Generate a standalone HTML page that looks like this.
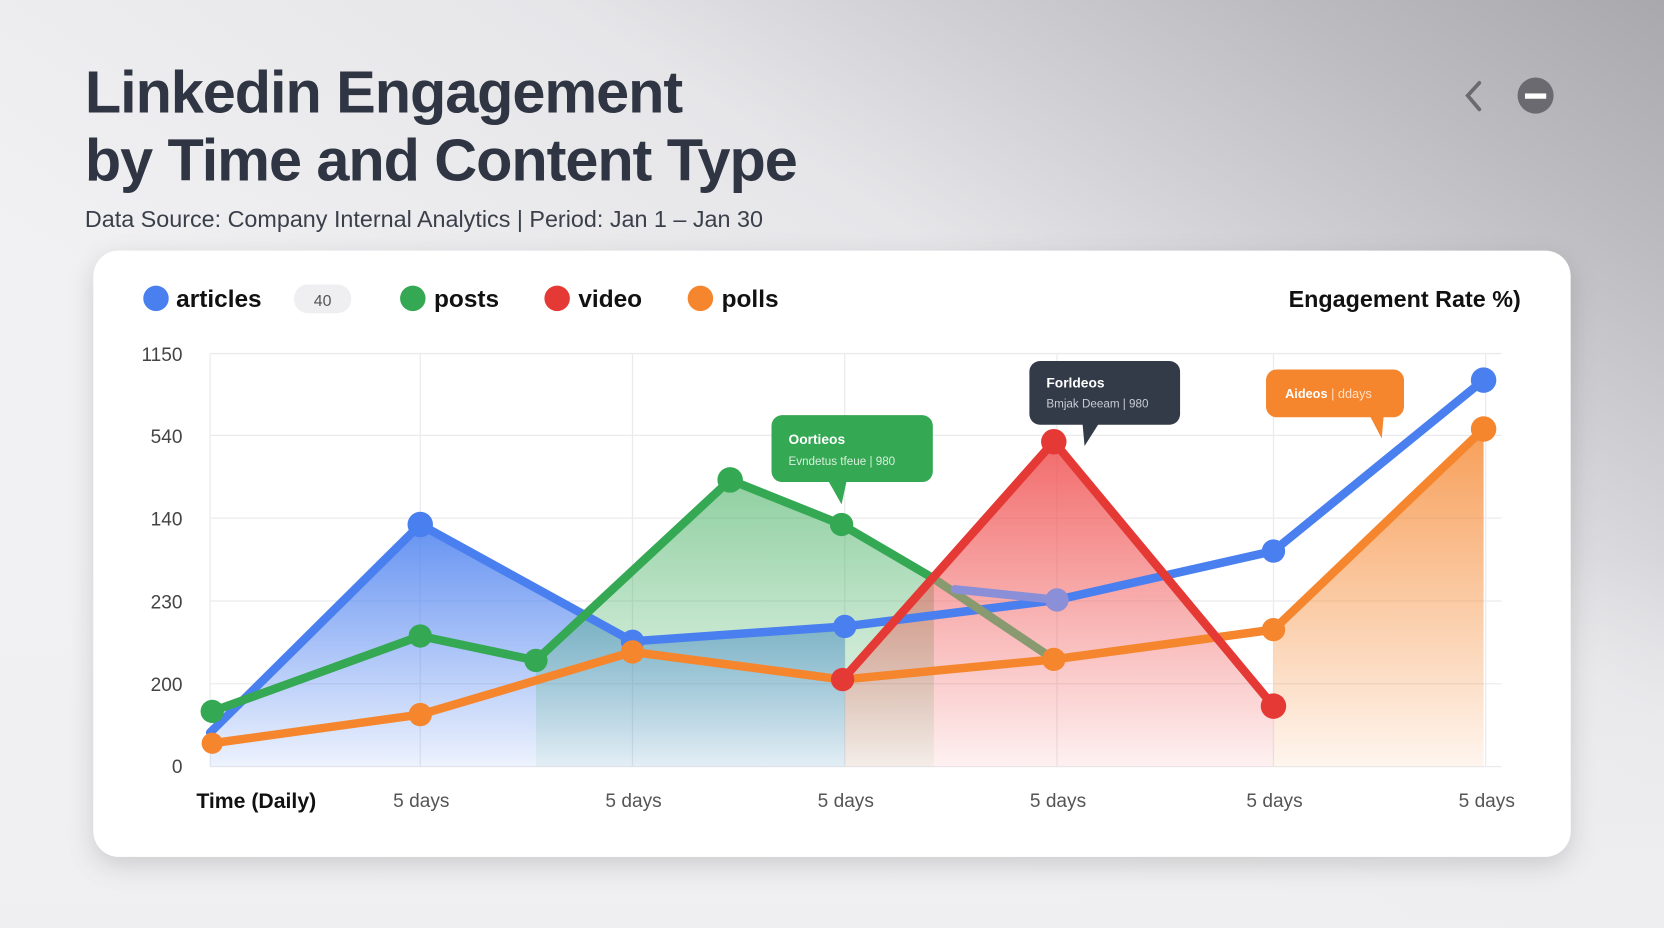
<!DOCTYPE html>
<html><head><meta charset="utf-8"><style>
html,body{margin:0;padding:0;width:1664px;height:928px;overflow:hidden}
svg{display:block}
text{font-family:"Liberation Sans",sans-serif}
</style></head><body>
<svg width="1664" height="928" viewBox="0 0 1568 874" preserveAspectRatio="none">
<defs>
<linearGradient id="bg" x1="0.3" y1="0.6" x2="1" y2="0">
<stop offset="0" stop-color="#f1f1f3"/><stop offset="0.45" stop-color="#e6e6e9"/><stop offset="0.8" stop-color="#bcbcc1"/><stop offset="1" stop-color="#a8a8ad"/></linearGradient>
<linearGradient id="bg2" x1="0" y1="0" x2="0" y2="1"><stop offset="0.6" stop-color="#efeff1" stop-opacity="0"/><stop offset="1" stop-color="#efeff1" stop-opacity="0.9"/></linearGradient>
<filter id="sh" x="-5%" y="-5%" width="110%" height="115%"><feDropShadow dx="0" dy="8" stdDeviation="12" flood-color="#000" flood-opacity="0.15"/></filter>
<linearGradient id="gb" x1="0" y1="0" x2="0" y2="1"><stop offset="0" stop-color="#4a7fef" stop-opacity="0.85"/><stop offset="1" stop-color="#4a7fef" stop-opacity="0.1"/></linearGradient>
<linearGradient id="gg" x1="0" y1="0" x2="0" y2="1"><stop offset="0" stop-color="#34a853" stop-opacity="0.55"/><stop offset="1" stop-color="#34a853" stop-opacity="0.05"/></linearGradient>
<linearGradient id="gr" x1="0" y1="0" x2="0" y2="1"><stop offset="0" stop-color="#f05050" stop-opacity="0.85"/><stop offset="1" stop-color="#f05050" stop-opacity="0.08"/></linearGradient>
<linearGradient id="go" x1="0" y1="0" x2="0" y2="1"><stop offset="0" stop-color="#f5862e" stop-opacity="0.8"/><stop offset="1" stop-color="#f5862e" stop-opacity="0.08"/></linearGradient>
</defs>
<rect width="1568" height="874" fill="url(#bg)"/>
<rect width="1568" height="874" fill="url(#bg2)"/>
<text x="80" y="106" font-size="56" font-weight="700" fill="#2f3542" letter-spacing="-1">Linkedin Engagement</text>
<text x="80" y="170" font-size="56" font-weight="700" fill="#2f3542" letter-spacing="-1">by Time and Content Type</text>
<text x="80" y="214" font-size="22" fill="#3a3f4a">Data Source: Company Internal Analytics | Period: Jan 1 – Jan 30</text>
<path d="M1394 78 L1383 90 L1394 103" fill="none" stroke="#6a6a70" stroke-width="3.5" stroke-linecap="round"/>
<circle cx="1447" cy="90" r="17" fill="#6a6a70"/><rect x="1437" y="88" width="20" height="5" fill="#fff"/>
<rect x="88" y="236" width="1392" height="571" rx="24" fill="#fff" filter="url(#sh)"/>
<circle cx="147" cy="281" r="12" fill="#4a7fef"/><text x="166" y="289" font-size="23" font-weight="700" fill="#111">articles</text>
<rect x="277" y="268" width="54" height="27" rx="13" fill="#efeff1"/><text x="304" y="288" font-size="15" fill="#555" text-anchor="middle">40</text>
<circle cx="389" cy="281" r="12" fill="#34a853"/><text x="409" y="289" font-size="23" font-weight="700" fill="#111">posts</text>
<circle cx="525" cy="281" r="12" fill="#e53935"/><text x="545" y="289" font-size="23" font-weight="700" fill="#111">video</text>
<circle cx="660" cy="281" r="12" fill="#f5862e"/><text x="680" y="289" font-size="23" font-weight="700" fill="#111">polls</text>
<text x="1433" y="289" font-size="22" font-weight="700" fill="#111" text-anchor="end">Engagement Rate %)</text>
<g stroke="#ebebee" stroke-width="1.2">
<line x1="198" y1="333" x2="1415" y2="333"/><line x1="198" y1="410" x2="1415" y2="410"/><line x1="198" y1="488" x2="1415" y2="488"/><line x1="198" y1="566" x2="1415" y2="566"/><line x1="198" y1="644" x2="1415" y2="644"/><line x1="198" y1="722" x2="1415" y2="722"/>
<line x1="198" y1="333" x2="198" y2="722"/><line x1="396" y1="333" x2="396" y2="722"/><line x1="596" y1="333" x2="596" y2="722"/><line x1="796" y1="333" x2="796" y2="722"/><line x1="996" y1="333" x2="996" y2="722"/><line x1="1200" y1="333" x2="1200" y2="722"/><line x1="1400" y1="333" x2="1400" y2="722"/>
</g>
<g font-size="18" fill="#444" text-anchor="end">
<text x="172" y="340">1150</text><text x="172" y="417">540</text><text x="172" y="495">140</text><text x="172" y="573">230</text><text x="172" y="651">200</text><text x="172" y="728">0</text></g>
<text x="185" y="761" font-size="20" font-weight="700" fill="#111">Time (Daily)</text>
<g font-size="18" fill="#555" text-anchor="middle"><text x="397" y="760">5 days</text><text x="597" y="760">5 days</text><text x="797" y="760">5 days</text><text x="997" y="760">5 days</text><text x="1201" y="760">5 days</text><text x="1401" y="760">5 days</text></g>
<polygon points="198,690 396,494 596,604 796,590 796,722 198,722" fill="url(#gb)"/>
<polygon points="505,622 688,452 793,494 880,545 880,722 505,722" fill="url(#gg)"/>
<polygon points="796,640 993,416 1200,665 1200,722 796,722" fill="url(#gr)"/>
<polygon points="1200,593 1398,404 1398,722 1200,722" fill="url(#go)"/>
<g fill="none" stroke-width="8" stroke-linejoin="round" stroke-linecap="round">
<polyline points="198,690 396,494 596,604 796,590 996,565 1200,519 1398,358" stroke="#4a7fef"/>
<polyline points="200,670 396,599 505,622 688,452 793,494 880,545" stroke="#34a853"/>
<polyline points="880,545 993,621" stroke="#8a9a70"/>
<polyline points="900,555 996,565" stroke="#8a8fd8"/>
<polyline points="200,700 396,673 596,614 794,640 993,621 1200,593 1398,404" stroke="#f5862e"/>
<polyline points="794,640 993,416 1200,665" stroke="#e53935"/>
</g>
<g fill="#4a7fef"><circle cx="396" cy="494" r="12"/><circle cx="596" cy="604" r="11"/><circle cx="796" cy="590" r="11"/><circle cx="996" cy="565" r="11" fill="#8a8fd8"/><circle cx="1200" cy="519" r="11"/><circle cx="1398" cy="358" r="12"/></g>
<g fill="#34a853"><circle cx="200" cy="670" r="11"/><circle cx="396" cy="599" r="11"/><circle cx="505" cy="622" r="11"/><circle cx="688" cy="452" r="12"/><circle cx="793" cy="494" r="11"/></g>
<g fill="#f5862e"><circle cx="200" cy="700" r="10"/><circle cx="396" cy="673" r="11"/><circle cx="596" cy="614" r="11"/><circle cx="993" cy="621" r="11"/><circle cx="1200" cy="593" r="11"/><circle cx="1398" cy="404" r="12"/></g>
<g fill="#e53935"><circle cx="794" cy="640" r="11"/><circle cx="993" cy="416" r="12"/><circle cx="1200" cy="665" r="12"/></g>
<rect x="727" y="391" width="152" height="63" rx="10" fill="#34a853"/><polygon points="780,452 798,452 793,475" fill="#34a853"/>
<text x="743" y="418" font-size="13" font-weight="700" fill="#fff">Oortieos</text><text x="743" y="438" font-size="11" fill="#d8f0dd">Evndetus tfeue | 980</text>
<rect x="970" y="340" width="142" height="60" rx="10" fill="#343b48"/><polygon points="1020,398 1036,398 1022,420" fill="#343b48"/>
<text x="986" y="365" font-size="13" font-weight="700" fill="#fff">Forldeos</text><text x="986" y="384" font-size="11" fill="#c8ccd4">Bmjak Deeam | 980</text>
<rect x="1193" y="348" width="130" height="45" rx="10" fill="#f5862e"/><polygon points="1290,390 1304,390 1302,413" fill="#f5862e"/>
<text x="1211" y="375" font-size="12" font-weight="700" fill="#fff">Aideos <tspan font-weight="400" fill="#fde0c8">| ddays</tspan></text>
</svg>
</body></html>
